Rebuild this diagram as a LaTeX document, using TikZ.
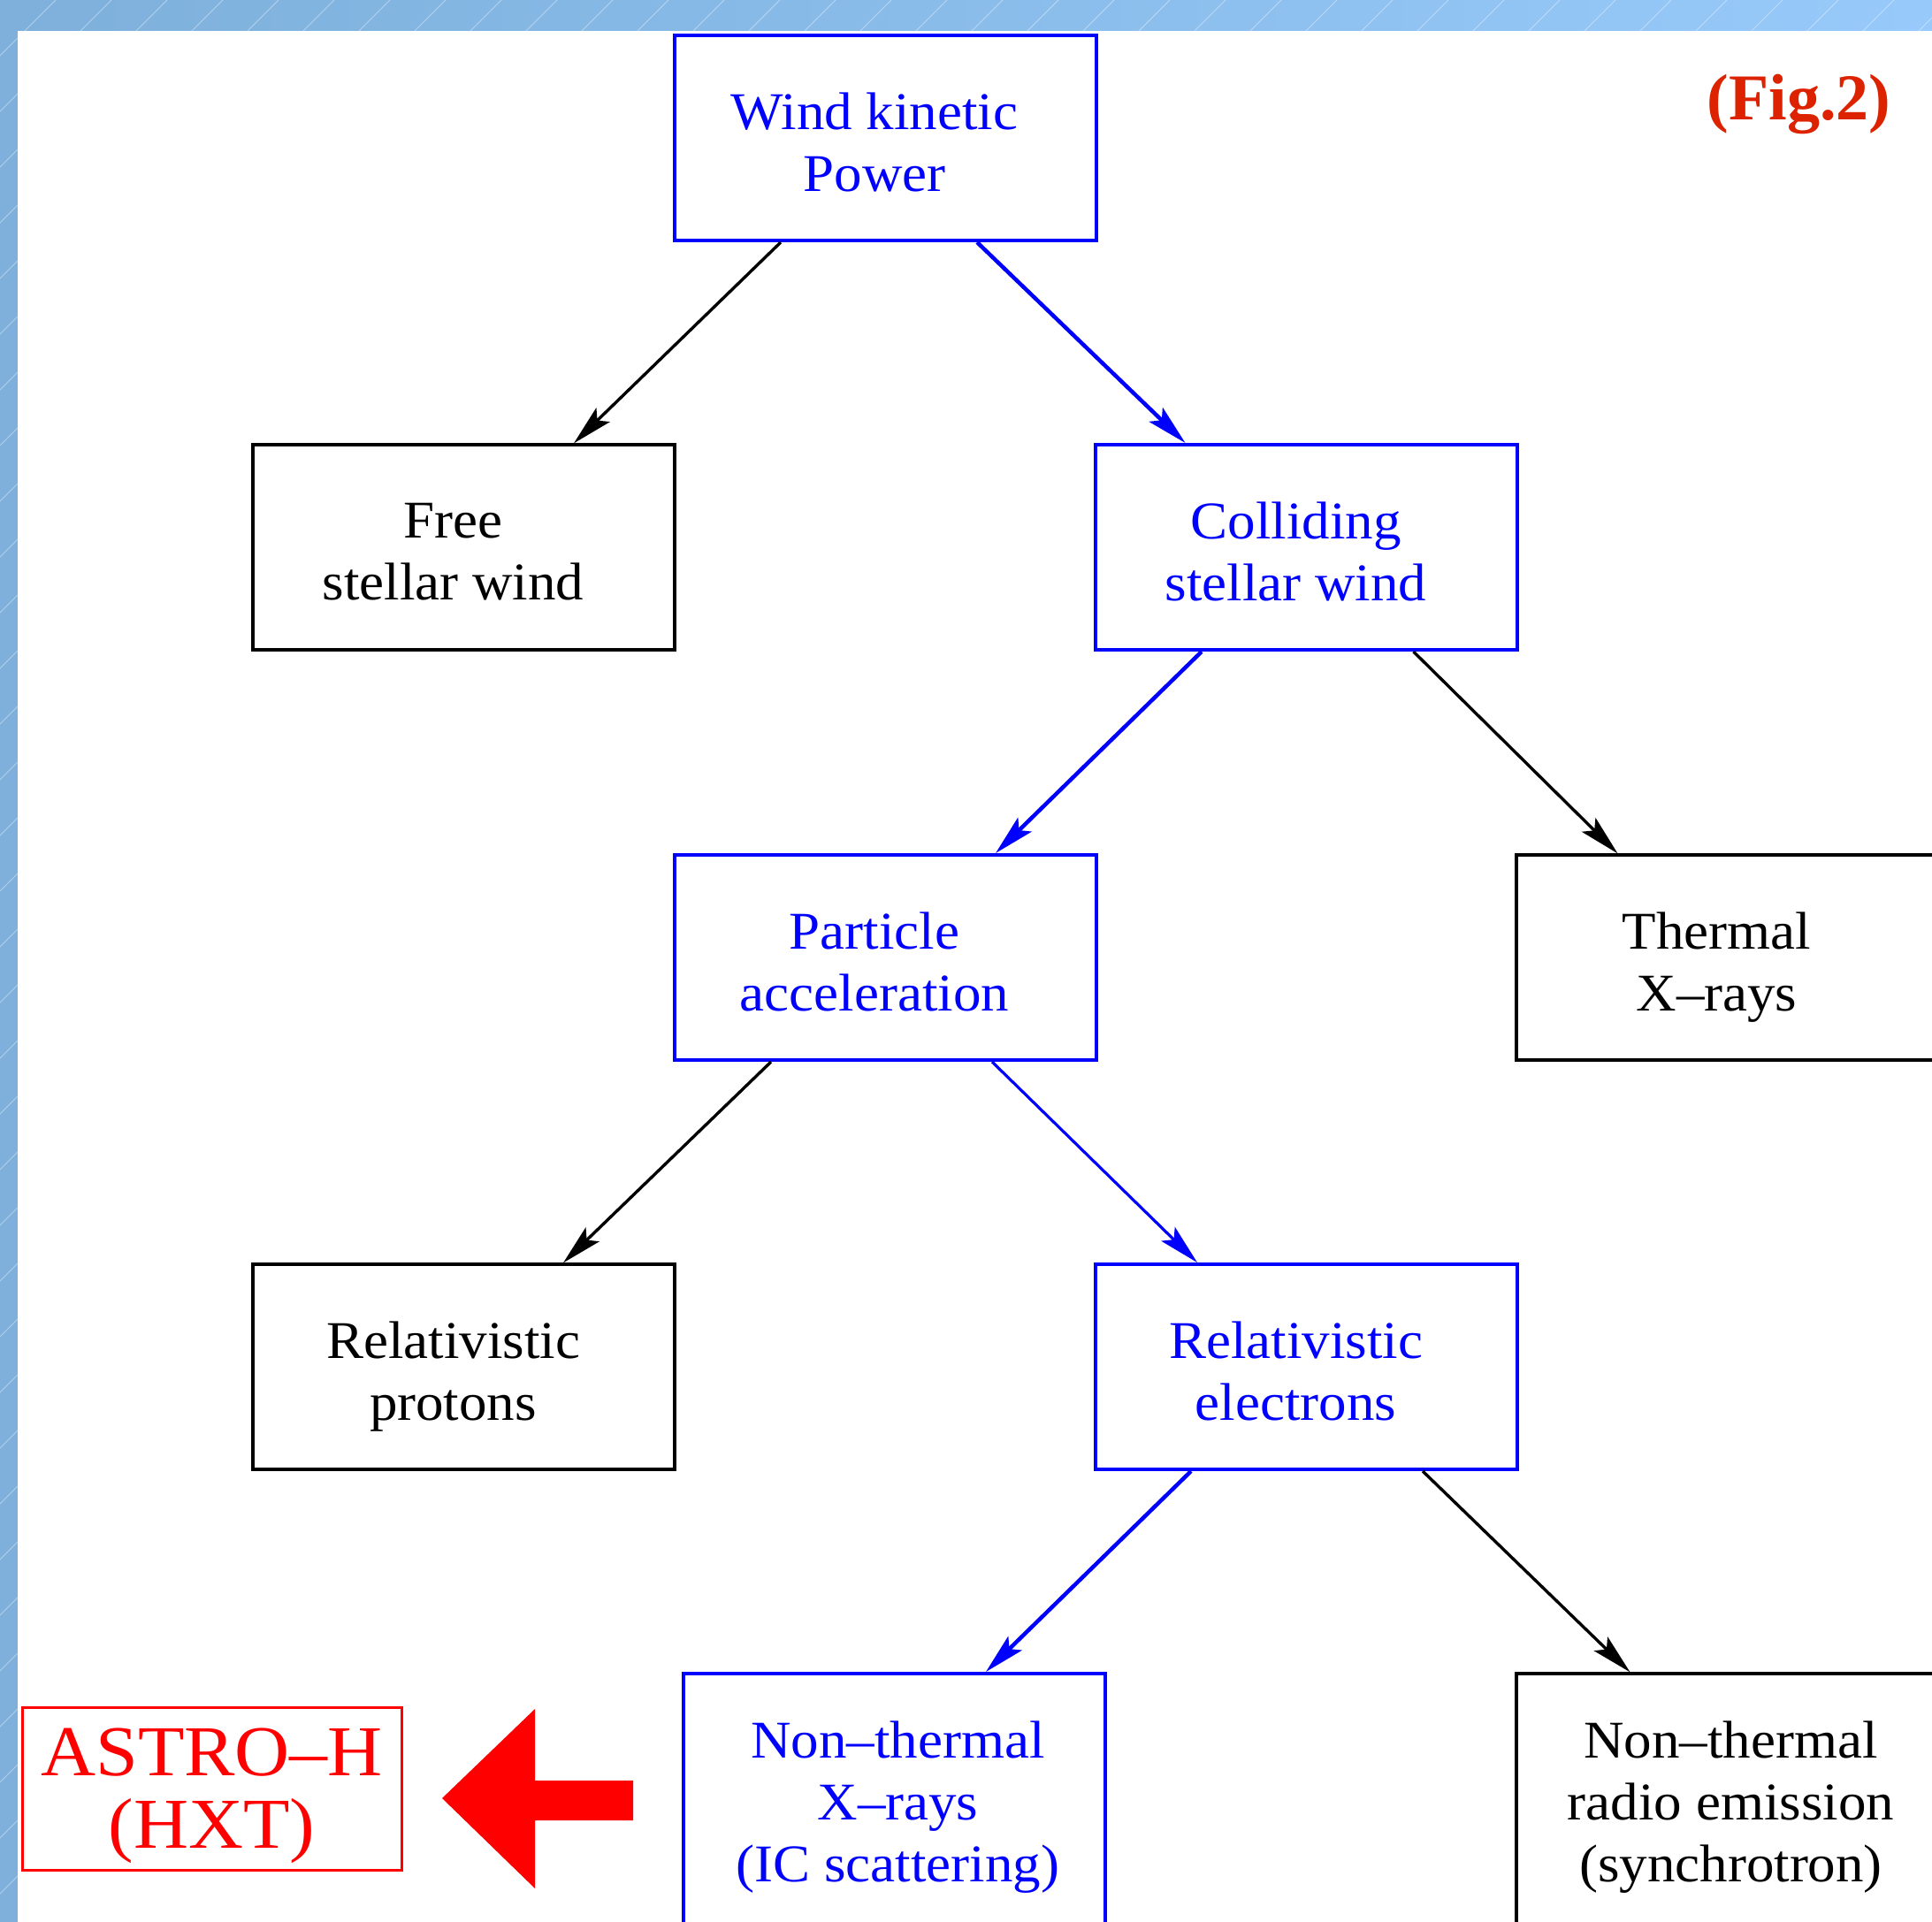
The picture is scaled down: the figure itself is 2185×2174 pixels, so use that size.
\documentclass[tikz,border=0pt]{standalone}
\usepackage{fontspec}
\setmainfont{Liberation Serif}
\newfontfamily\boxfont[FakeStretch=1.05]{Liberation Serif}
\newfontfamily\astrofont[FakeStretch=1.06]{Liberation Serif}
\usetikzlibrary{arrows.meta,calc}
\definecolor{bgL}{RGB}{126,176,219}
\definecolor{bgR}{RGB}{151,201,250}
\definecolor{figred}{RGB}{221,34,0}
\definecolor{pblue}{RGB}{0,0,255}
\definecolor{pred}{RGB}{255,0,0}
\newcommand\dstrut{\rule[-14pt]{0pt}{14pt}}
\begin{document}
\begin{tikzpicture}[x=1pt,y=-1pt,
  box/.style={rectangle, minimum width=477pt, minimum height=232pt, inner sep=0pt},
  bluebox/.style={box, draw=pblue, line width=4pt},
  blackbox/.style={box, draw=black, line width=3.3pt},
  tallbox/.style={minimum height=300pt},
  boxtext/.style={align=center, inner sep=0pt, font=\boxfont\fontsize{60}{70}\selectfont},
  twoline/.style={boxtext, xshift=-12pt, yshift=-11.5pt},
  threeline/.style={boxtext, xshift=4pt, yshift=-2pt},
  arrowhd/.style={-{Stealth[length=46pt,width=22pt,inset=9pt]}},
  bluearrow/.style={arrowhd, draw=pblue, line width=4.5pt},
  thinbluearrow/.style={arrowhd, draw=pblue, line width=3.2pt},
  blackarrow/.style={arrowhd, draw=black, line width=3.4pt},
  astrobox/.style={rectangle, draw=pred, line width=3pt, text=pred, minimum width=429pt, minimum height=184pt, inner sep=0pt, align=center, font=\astrofont\fontsize{81}{82}\selectfont},
  figlabel/.style={text=figred, font=\fontsize{74}{80}\selectfont\bfseries, anchor=base, inner sep=0pt},
]
\useasboundingbox (0,0) rectangle (2185,2174);
\clip (0,0) rectangle (2185,2174);
% background frame
\shade[left color=bgL, right color=bgR] (0,0) rectangle (2185,2174);
\foreach \c in {0,63,...,4410} \draw[white, opacity=0.4, line width=1pt] (\c,0) -- ({\c-2174},2174);
\fill[white] (20,35) rectangle (2185,2174);

% boxes
\node[bluebox, label={[twoline, text=pblue]center:{Wind kinetic\\Power\dstrut}}] (wind) at (1001,156) {};
\node[blackbox, label={[twoline, text=black]center:{Free\\stellar wind\dstrut}}] (free) at (524.5,619) {};
\node[bluebox, label={[twoline, text=pblue]center:{Colliding\\stellar wind\dstrut}}] (coll) at (1477.5,619) {};
\node[bluebox, label={[twoline, text=pblue]center:{Particle\\acceleration\dstrut}}] (part) at (1001,1083) {};
\node[blackbox, label={[twoline, text=black]center:{Thermal\\X–rays\dstrut}}] (therm) at (1953.5,1083) {};
\node[blackbox, label={[twoline, text=black]center:{Relativistic\\protons\dstrut}}] (prot) at (524.5,1546) {};
\node[bluebox, label={[twoline, text=pblue]center:{Relativistic\\electrons\dstrut}}] (elec) at (1477.5,1546) {};
\node[bluebox, tallbox, label={[threeline, text=pblue]center:{Non–thermal\\X–rays\\(IC scattering)\dstrut}}] (ntx) at (1011.5,2043) {};
\node[blackbox, tallbox, label={[threeline, text=black]center:{Non–thermal\\radio emission\\(synchrotron)\dstrut}}] (ntr) at (1953.5,2043) {};

\node[astrobox] (astro) at (239.5,2023) {\rule{0pt}{70pt}ASTRO–H\\(HXT)};
\node[figlabel] (fig) at (2034.5,135) {(Fig.2)};

% big red arrow
\fill[pred] (500,2034) -- (605,1933) -- (605,2014) -- (716,2014) -- (716,2059) -- (605,2059) -- (605,2136) -- cycle;

% connectors
\draw[blackarrow] ($(wind.south)+(-118,0)$) -- ($(free.north)+(124.5,0)$);
\draw[bluearrow] ($(wind.south)+(104,0)$) -- ($(coll.north)+(-137,0)$);
\draw[bluearrow] ($(coll.south)+(-118.5,0)$) -- ($(part.north)+(125,0)$);
\draw[blackarrow] ($(coll.south)+(121,0)$) -- ($(therm.north)+(-124,0)$);
\draw[blackarrow] ($(part.south)+(-129,0)$) -- ($(prot.north)+(112.5,0)$);
\draw[thinbluearrow] ($(part.south)+(121,0)$) -- ($(elec.north)+(-123.5,0)$);
\draw[bluearrow] ($(elec.south)+(-130.5,0)$) -- ($(ntx.north)+(103.5,0)$);
\draw[blackarrow] ($(elec.south)+(131.5,0)$) -- ($(ntr.north)+(-110,0)$);
\end{tikzpicture}
\end{document}
